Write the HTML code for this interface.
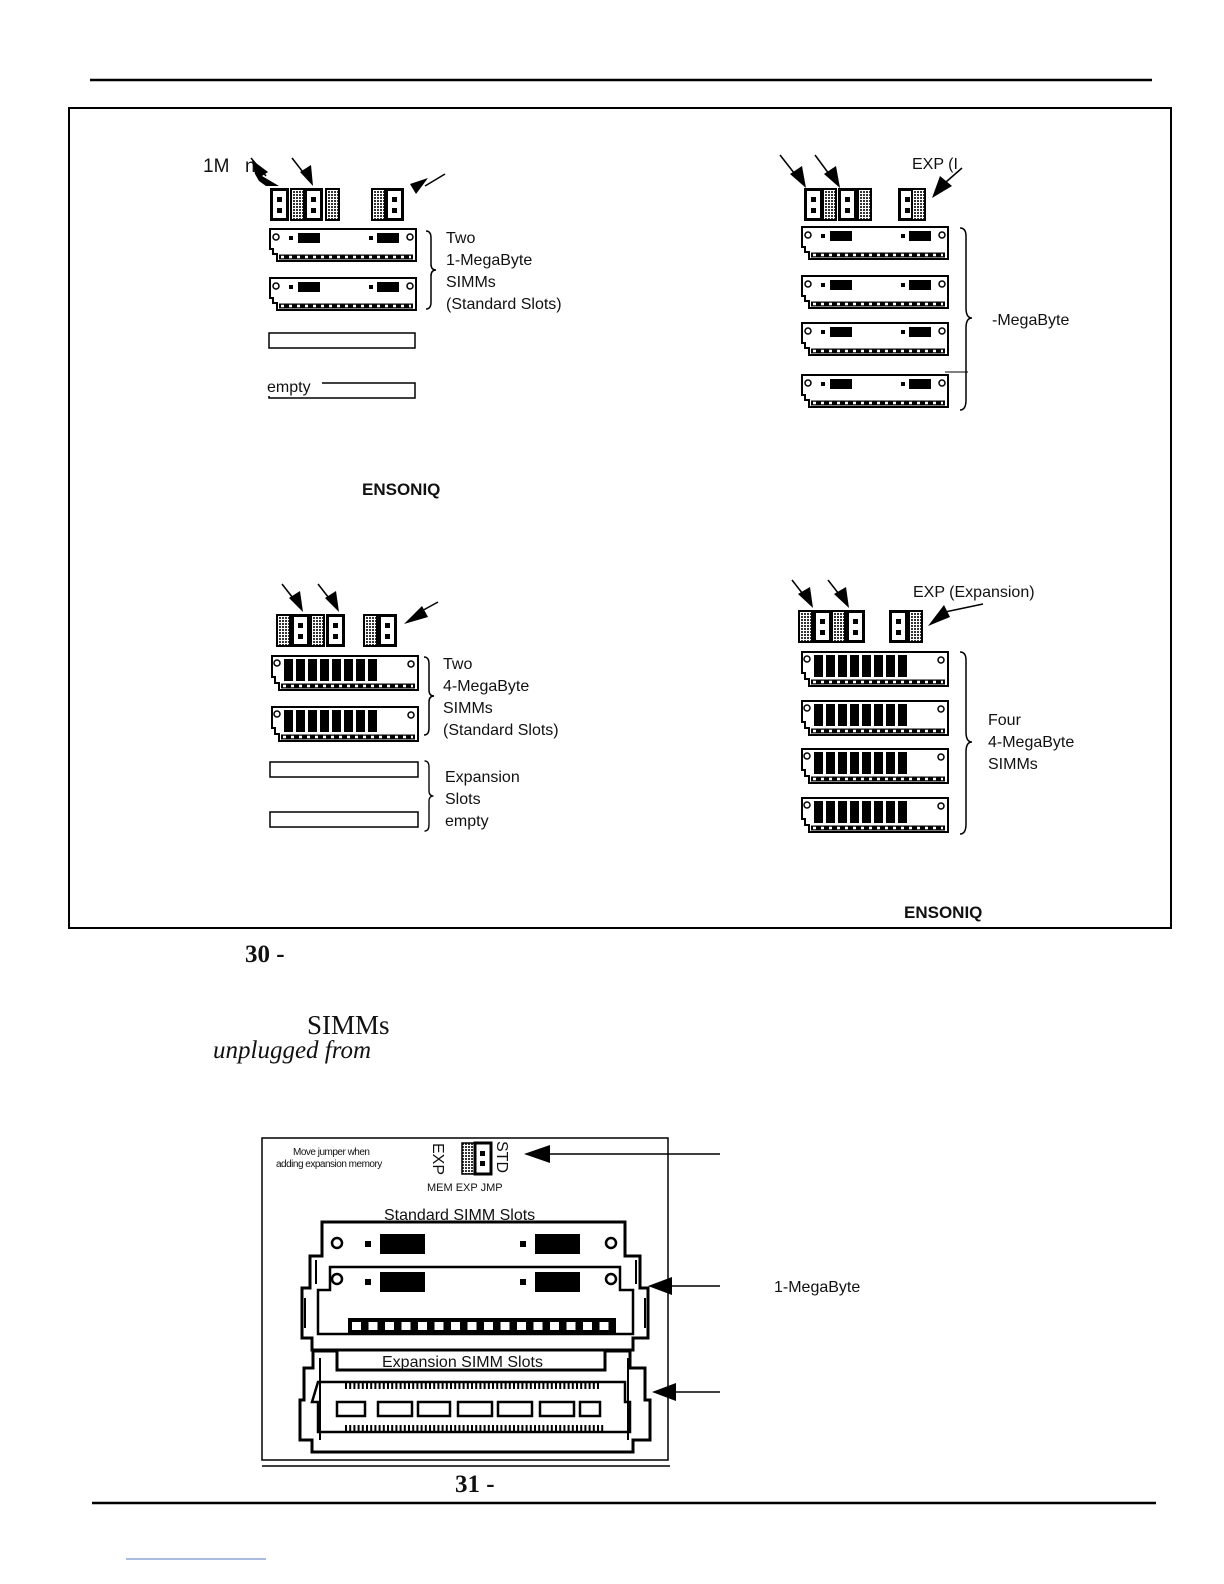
<!DOCTYPE html>
<html><head><meta charset="utf-8"><style>
html,body{margin:0;padding:0;background:#fff;overflow:hidden;width:1224px;height:1584px}
svg{display:block}
text{font-family:"Liberation Sans",sans-serif;fill:#111}
.s{font-family:"Liberation Serif",serif}
</style></head><body>
<svg width="1224" height="1584" viewBox="0 0 1224 1584" xmlns="http://www.w3.org/2000/svg">
<defs>
<pattern id="h" width="3" height="3" patternUnits="userSpaceOnUse"><rect width="3" height="3" fill="#fff"/><rect width="2" height="2" fill="#333"/></pattern>
<symbol id="m1" viewBox="0 0 148 34" width="148" height="34">
<path d="M1,1 H147 V33 H8 V26 H4 V21 H1 Z" fill="#fff" stroke="#000" stroke-width="2"/>
<line x1="10" y1="29" x2="144" y2="29" stroke="#000" stroke-width="5"/>
<line x1="12" y1="29" x2="142" y2="29" stroke="#fff" stroke-width="2.5" stroke-dasharray="3 5"/>
<circle cx="7" cy="9" r="3" fill="#fff" stroke="#000" stroke-width="1.5"/>
<circle cx="141" cy="9" r="3" fill="#fff" stroke="#000" stroke-width="1.5"/>
<rect x="20" y="8" width="4" height="4"/><rect x="29" y="5" width="22" height="10"/>
<rect x="100" y="8" width="4" height="4"/><rect x="108" y="5" width="22" height="10"/>
</symbol>
<symbol id="m4" viewBox="0 0 148 36" width="148" height="36">
<path d="M1,1 H147 V35 H8 V28 H4 V22 H1 Z" fill="#fff" stroke="#000" stroke-width="2"/>
<line x1="10" y1="31" x2="144" y2="31" stroke="#000" stroke-width="5"/>
<line x1="12" y1="31" x2="142" y2="31" stroke="#fff" stroke-width="2.5" stroke-dasharray="3 5"/>
<circle cx="6" cy="8" r="3" fill="#fff" stroke="#000" stroke-width="1.5"/>
<circle cx="140" cy="9" r="3" fill="#fff" stroke="#000" stroke-width="1.5"/>
<g fill="#000"><rect x="13" y="4" width="9" height="22"/><rect x="25" y="4" width="9" height="22"/><rect x="37" y="4" width="9" height="22"/><rect x="49" y="4" width="9" height="22"/><rect x="61" y="4" width="9" height="22"/><rect x="73" y="4" width="9" height="22"/><rect x="85" y="4" width="9" height="22"/><rect x="97" y="4" width="9" height="22"/></g>
</symbol>
<symbol id="jw" viewBox="0 0 19 33" width="19" height="33">
<rect x="1.5" y="1.5" width="16" height="30" fill="#fff" stroke="#000" stroke-width="3"/>
<rect x="7" y="9" width="5" height="5"/><rect x="7" y="20" width="5" height="5"/>
</symbol>
<symbol id="jh" viewBox="0 0 15 33" width="15" height="33">
<rect x="1" y="1" width="13" height="31" fill="url(#h)" stroke="#000" stroke-width="2"/>
</symbol>
<symbol id="br" viewBox="0 0 12 80" width="12" height="80">
<path d="M1,1 Q6,1 6,8 V34 Q6,40 11,40 Q6,40 6,46 V72 Q6,79 1,79" fill="none" stroke="#000" stroke-width="1.5"/>
</symbol>
</defs>

<line x1="90" y1="80" x2="1152" y2="80" stroke="#000" stroke-width="2.5"/>
<rect x="69" y="108" width="1102" height="820" fill="none" stroke="#000" stroke-width="2"/>
<line x1="92" y1="1503" x2="1156" y2="1503" stroke="#000" stroke-width="2.5"/>
<line x1="126" y1="1559" x2="266" y2="1559" stroke="#5577bb" stroke-width="1"/>

<!-- Panel 1 -->
<text x="203" y="172" font-size="19">1M</text>
<text x="245" y="172" font-size="19">n</text>
<polygon points="252,160 268,172 262,176 279,186 266,186 259,181 255,174" />
<line x1="251" y1="158" x2="266" y2="176" stroke="#000" stroke-width="1.5"/>
<line x1="292" y1="158" x2="306" y2="176" stroke="#000" stroke-width="1.5"/>
<polygon points="300,172 311,165 313,186"/>
<line x1="445" y1="174" x2="425" y2="186" stroke="#000" stroke-width="1.5"/>
<polygon points="428,178 416,194 410,184"/>
<use href="#jw" x="270" y="188"/><use href="#jh" x="290" y="188"/><use href="#jw" x="304" y="188"/><use href="#jh" x="325" y="188"/>
<use href="#jh" x="371" y="188"/><use href="#jw" x="385" y="188"/>
<use href="#m1" x="269" y="228"/>
<use href="#m1" x="269" y="277"/>
<use href="#br" x="425" y="230"/>
<text x="446" y="243" font-size="16">Two</text>
<text x="446" y="265" font-size="16">1-MegaByte</text>
<text x="446" y="287" font-size="16">SIMMs</text>
<text x="446" y="309" font-size="16">(Standard Slots)</text>
<rect x="269" y="333" width="146" height="15" fill="none" stroke="#000" stroke-width="1.5"/>
<rect x="269" y="383" width="146" height="15" fill="none" stroke="#000" stroke-width="1.5"/>
<rect x="266" y="378" width="56" height="18" fill="#fff"/>
<text x="267" y="392" font-size="16">empty</text>

<!-- Panel 2 -->
<line x1="780" y1="155" x2="798" y2="178" stroke="#000" stroke-width="1.5"/>
<polygon points="790,174 802,166 806,188"/>
<line x1="815" y1="155" x2="832" y2="178" stroke="#000" stroke-width="1.5"/>
<polygon points="824,174 836,166 840,188"/>
<text x="912" y="169" font-size="16">EXP (I</text>
<line x1="962" y1="168" x2="946" y2="182" stroke="#000" stroke-width="1.5"/>
<polygon points="940,176 952,186 932,198"/>
<use href="#jw" x="804" y="188"/><use href="#jh" x="822" y="188"/><use href="#jw" x="838" y="188"/><use href="#jh" x="857" y="188"/>
<use href="#jw" x="898" y="188"/><use href="#jh" x="911" y="188"/>
<use href="#m1" x="801" y="226"/>
<use href="#m1" x="801" y="275"/>
<use href="#m1" x="801" y="322"/>
<use href="#m1" x="801" y="374"/>
<line x1="945" y1="372" x2="968" y2="372" stroke="#000" stroke-width="1"/>
<path d="M960,228 Q966,228 966,236 V308 Q966,318 972,318 Q966,318 966,328 V400 Q966,410 960,410" fill="none" stroke="#000" stroke-width="1.5"/>
<text x="992" y="325" font-size="16">-MegaByte</text>

<text x="362" y="495" font-size="17" font-weight="bold">ENSONIQ</text>

<!-- Panel 3 -->
<line x1="282" y1="584" x2="296" y2="602" stroke="#000" stroke-width="1.5"/>
<polygon points="289,598 300,591 303,612"/>
<line x1="318" y1="584" x2="332" y2="602" stroke="#000" stroke-width="1.5"/>
<polygon points="325,598 336,591 339,612"/>
<line x1="438" y1="602" x2="418" y2="613" stroke="#000" stroke-width="1.5"/>
<polygon points="422,606 428,617 404,624"/>
<use href="#jh" x="276" y="614"/><use href="#jw" x="291" y="614"/><use href="#jh" x="310" y="614"/><use href="#jw" x="326" y="614"/>
<use href="#jh" x="363" y="614"/><use href="#jw" x="378" y="614"/>
<use href="#m4" x="271" y="655"/>
<use href="#m4" x="271" y="706"/>
<use href="#br" x="423" y="656"/>
<text x="443" y="669" font-size="16">Two</text>
<text x="443" y="691" font-size="16">4-MegaByte</text>
<text x="443" y="713" font-size="16">SIMMs</text>
<text x="443" y="735" font-size="16">(Standard Slots)</text>
<rect x="270" y="762" width="148" height="15" fill="none" stroke="#000" stroke-width="1.5"/>
<rect x="270" y="812" width="148" height="15" fill="none" stroke="#000" stroke-width="1.5"/>
<use href="#br" x="423" y="760" height="72"/>
<text x="445" y="782" font-size="16">Expansion</text>
<text x="445" y="804" font-size="16">Slots</text>
<text x="445" y="826" font-size="16">empty</text>

<!-- Panel 4 -->
<line x1="792" y1="580" x2="806" y2="598" stroke="#000" stroke-width="1.5"/>
<polygon points="798,594 810,587 813,608"/>
<line x1="828" y1="580" x2="842" y2="598" stroke="#000" stroke-width="1.5"/>
<polygon points="834,594 846,587 849,608"/>
<text x="913" y="597" font-size="16">EXP (Expansion)</text>
<line x1="983" y1="604" x2="945" y2="612" stroke="#000" stroke-width="1.5"/>
<polygon points="944,605 950,617 928,626"/>
<use href="#jh" x="798" y="610"/><use href="#jw" x="813" y="610"/><use href="#jh" x="831" y="610"/><use href="#jw" x="846" y="610"/>
<use href="#jw" x="889" y="610"/><use href="#jh" x="908" y="610"/>
<use href="#m4" x="801" y="651"/>
<use href="#m4" x="801" y="700"/>
<use href="#m4" x="801" y="748"/>
<use href="#m4" x="801" y="797"/>
<path d="M960,652 Q966,652 966,660 V732 Q966,742 972,742 Q966,742 966,752 V824 Q966,834 960,834" fill="none" stroke="#000" stroke-width="1.5"/>
<text x="988" y="725" font-size="16">Four</text>
<text x="988" y="747" font-size="16">4-MegaByte</text>
<text x="988" y="769" font-size="16">SIMMs</text>
<text x="904" y="918" font-size="17" font-weight="bold">ENSONIQ</text>

<text x="245" y="962" class="s" font-size="25" font-weight="bold">30 -</text>
<text x="307" y="1034" class="s" font-size="27">SIMMs</text>
<text x="213" y="1058" class="s" font-size="25" font-style="italic">unplugged from</text>

<!-- Bottom figure -->
<rect x="262" y="1138" width="406" height="322" fill="none" stroke="#000" stroke-width="1.5"/>
<line x1="262" y1="1466" x2="670" y2="1466" stroke="#000" stroke-width="1.5"/>
<text x="293" y="1155" font-size="10" letter-spacing="-0.5">Move jumper  when</text>
<text x="276" y="1167" font-size="10" letter-spacing="-0.5">adding expansion memory</text>
<text transform="translate(433,1143) rotate(90)" font-size="16">EXP</text>
<text transform="translate(497,1141) rotate(90)" font-size="16">STD</text>
<rect x="462" y="1143" width="13" height="31" fill="url(#h)" stroke="#000" stroke-width="1.5"/>
<rect x="475" y="1143" width="16" height="31" fill="#fff" stroke="#000" stroke-width="3"/>
<rect x="480" y="1151" width="5" height="5"/><rect x="480" y="1161" width="5" height="5"/>
<text x="427" y="1191" font-size="11">MEM EXP JMP</text>
<line x1="535" y1="1154" x2="720" y2="1154" stroke="#000" stroke-width="1.5"/>
<polygon points="524,1154 550,1145 550,1163"/>
<text x="384" y="1220" font-size="16">Standard SIMM Slots</text>
<g fill="none" stroke="#000" stroke-width="3">
<path d="M322,1222 H625 V1256 H640 V1288 H648 V1338 H633 V1350 H312 V1338 H302 V1288 H310 V1256 H322 Z"/>
<path d="M330,1267 H620 V1290 H633 V1334 H318 V1290 H330 Z" stroke-width="2.5"/>
<path d="M316,1260 V1284 M305,1298 V1328 M636,1260 V1284 M645,1298 V1328" stroke-width="2"/>
</g>
<circle cx="337" cy="1243" r="5" fill="#fff" stroke="#000" stroke-width="2.5"/>
<circle cx="611" cy="1243" r="5" fill="#fff" stroke="#000" stroke-width="2.5"/>
<circle cx="337" cy="1279" r="5" fill="#fff" stroke="#000" stroke-width="2.5"/>
<circle cx="611" cy="1279" r="5" fill="#fff" stroke="#000" stroke-width="2.5"/>
<rect x="365" y="1241" width="6" height="6"/><rect x="380" y="1234" width="45" height="20"/>
<rect x="520" y="1241" width="6" height="6"/><rect x="535" y="1234" width="45" height="20"/>
<rect x="365" y="1279" width="6" height="6"/><rect x="380" y="1272" width="45" height="20"/>
<rect x="520" y="1279" width="6" height="6"/><rect x="535" y="1272" width="45" height="20"/>
<rect x="348" y="1318" width="268" height="16"/>
<line x1="352" y1="1326" x2="614" y2="1326" stroke="#fff" stroke-width="8" stroke-dasharray="9 7.5"/>
<line x1="655" y1="1286" x2="720" y2="1286" stroke="#000" stroke-width="1.5"/>
<polygon points="648,1286 672,1277 672,1295"/>
<text x="774" y="1292" font-size="16">1-MegaByte</text>
<text x="382" y="1367" font-size="16">Expansion SIMM Slots</text>
<g fill="none" stroke="#000" stroke-width="3">
<path d="M313,1351 H337 V1370 H605 V1351 H630 V1368 H645 V1400 H650 V1440 H633 V1452 H312 V1440 H300 V1400 H304 V1368 H313 Z"/>
<path d="M318,1382 H625 V1402 H630 V1432 H318 V1402 H312 Z" stroke-width="2.5"/>
<path d="M320,1358 V1440 M628,1358 V1440" stroke-width="2"/>
</g>
<line x1="345" y1="1386" x2="600" y2="1386" stroke="#000" stroke-width="6" stroke-dasharray="2 2.2"/>
<line x1="345" y1="1428" x2="605" y2="1428" stroke="#000" stroke-width="6" stroke-dasharray="2 2.2"/>
<g fill="none" stroke="#000" stroke-width="2.5">
<rect x="337" y="1402" width="28" height="14"/><rect x="378" y="1402" width="34" height="14"/><rect x="418" y="1402" width="32" height="14"/><rect x="458" y="1402" width="34" height="14"/><rect x="498" y="1402" width="34" height="14"/><rect x="540" y="1402" width="34" height="14"/><rect x="580" y="1402" width="20" height="14"/>
</g>
<line x1="660" y1="1392" x2="720" y2="1392" stroke="#000" stroke-width="1.5"/>
<polygon points="652,1392 676,1383 676,1401"/>
<text x="455" y="1492" class="s" font-size="25" font-weight="bold">31 -</text>
</svg>
</body></html>
